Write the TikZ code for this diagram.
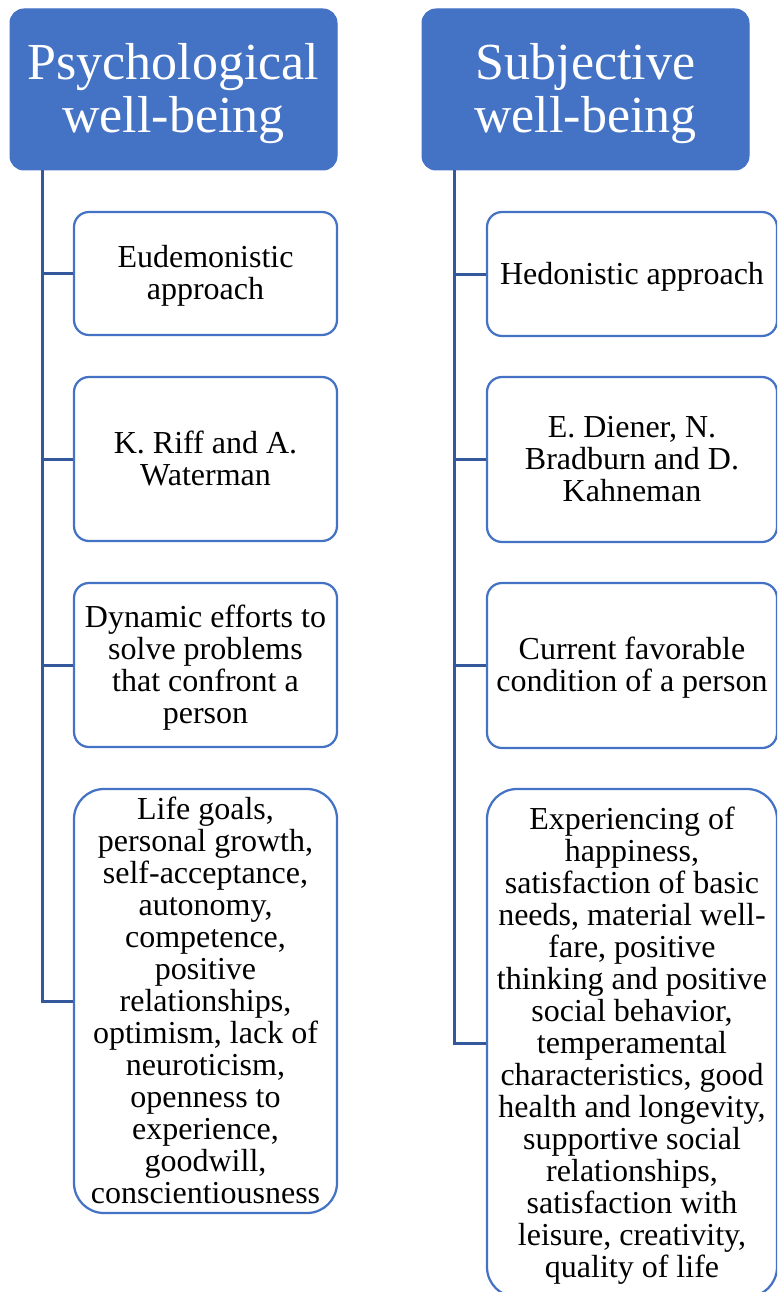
\documentclass[tikz,border=0pt]{standalone}
\usepackage{fontspec}
\setmainfont{Liberation Serif}
\definecolor{hdblue}{RGB}{68,114,196}
\definecolor{lnblue}{RGB}{52,88,156}
% line struts like a word processor (font ascent / descent)
\newcommand{\topst}{\rule{0pt}{0.87em}}
\newcommand{\botst}{\rule[-0.22em]{0pt}{0.22em}}

\begin{document}
\begin{tikzpicture}[x=1pt,y=-1pt,
    head/.style={fill=hdblue,draw=hdblue,line width=1pt,rounded corners=14pt,
        minimum width=327pt,minimum height=161pt,inner sep=0pt,align=center,
        text=white,font=\fontsize{52}{53}\selectfont},
    item/.style={draw=hdblue,fill=white,line width=2.25pt,rounded corners=15pt,
        inner sep=0pt,align=center,font=\fontsize{32}{32}\selectfont},
    conn/.style={draw=lnblue,line width=3pt}]
    \clip (0,0) rectangle (777,1292);

    % headers
    \node [head] (pwb) at (173.5,89.5) {\topst Psychological\\well-being\botst};
    \node [head] (swb) at (585.5,89.5) {\topst Subjective\\well-being\botst};

    % trunk start
    \coordinate (ptrunk) at (42,170);
    \coordinate (strunk) at (454,170);

    % psychological items
    \node [item,minimum width=263pt,minimum height=123pt] (p1) at (205.5,273.5) {\topst Eudemonistic\\approach\botst};
    \node [item,minimum width=263pt,minimum height=164pt] (p2) at (205.5,459) {\topst K. Riff and A.\\Waterman\botst};
    \node [item,minimum width=263pt,minimum height=164pt] (p3) at (205.5,665) {\topst Dynamic efforts to\\solve problems\\that confront a\\person\botst};
    \node [item,minimum width=263pt,minimum height=424pt,rounded corners=30pt] (p4) at (205.5,1001) {\topst Life goals,\\personal growth,\\self-acceptance,\\autonomy,\\competence,\\positive\\relationships,\\optimism, lack of\\neuroticism,\\openness to\\experience,\\goodwill,\\conscientiousness\botst};

    % subjective items
    \node [item,minimum width=290pt,minimum height=124pt] (s1) at (632,274) {\topst Hedonistic approach\botst};
    \node [item,minimum width=290pt,minimum height=165pt] (s2) at (632,459.5) {\topst E. Diener, N.\\Bradburn and D.\\Kahneman\botst};
    \node [item,minimum width=290pt,minimum height=165pt] (s3) at (632,665.5) {\topst Current favorable\\condition of a person\botst};
    \node [item,minimum width=290pt,minimum height=508pt,rounded corners=30pt] (s4) at (632,1043) {\topst Experiencing of\\happiness,\\satisfaction of basic\\needs, material well-\\fare, positive\\thinking and positive\\social behavior,\\temperamental\\characteristics, good\\health and longevity,\\supportive social\\relationships,\\satisfaction with\\leisure, creativity,\\quality of life\botst};

    % connectors
    \draw [conn] (ptrunk) |- (p4.west);
    \draw [conn] (ptrunk |- p1.west) -- (p1.west);
    \draw [conn] (ptrunk |- p2.west) -- (p2.west);
    \draw [conn] (ptrunk |- p3.west) -- (p3.west);

    \draw [conn] (strunk) |- (s4.west);
    \draw [conn] (strunk |- s1.west) -- (s1.west);
    \draw [conn] (strunk |- s2.west) -- (s2.west);
    \draw [conn] (strunk |- s3.west) -- (s3.west);
\end{tikzpicture}
\end{document}
